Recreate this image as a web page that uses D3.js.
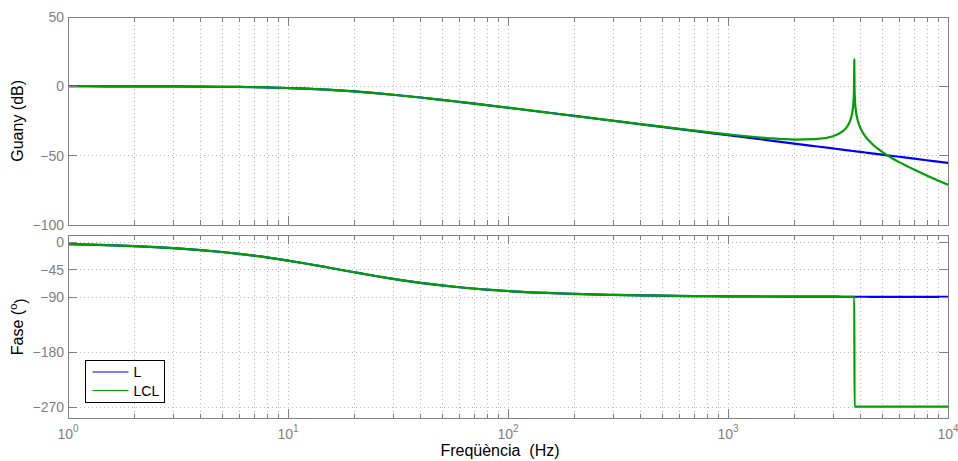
<!DOCTYPE html>
<html>
<head>
<meta charset="utf-8">
<script src="https://cdn.jsdelivr.net/npm/d3@7"></script>
<style>
  html, body { margin: 0; padding: 0; background: #fff; }
  svg { display: block; }
  text { font-family: "Liberation Sans", Arial, Helvetica, sans-serif; }
</style>
</head>
<body>
<svg id="bode" width="958" height="461"></svg>
<script>
// Frequency samples (Hz)
const freq = [1, 1.5, 2, 3, 4, 5, 6, 8, 10, 12, 15, 20, 25, 30, 40, 50, 60, 80, 100, 150,
  200, 300, 400, 500, 700, 1000, 1500, 2000, 2500, 3000, 3300, 3500, 3600, 3700, 3720, 3740,
  3750, 3760, 3780, 3800, 3900, 4000, 4200, 4500, 5000, 5500, 6000, 7000, 8000, 9000, 10000];

// Magnitude (dB)
const gainL = [-0.02, -0.03, -0.06, -0.13, -0.23, -0.36, -0.51, -0.87, -1.29, -1.76, -2.50,
  -3.77, -5.00, -6.14, -8.15, -9.85, -11.29, -13.65, -15.52, -18.97, -21.44, -24.95, -27.44,
  -29.38, -32.30, -35.39, -38.91, -41.41, -43.35, -44.93, -45.76, -46.27, -46.52, -46.76,
  -46.80, -46.85, -46.87, -46.89, -46.94, -46.99, -47.21, -47.43, -47.86, -48.46, -49.37,
  -50.20, -50.95, -52.29, -53.45, -54.48, -55.39];
const gainLCL = [-0.02, -0.03, -0.06, -0.13, -0.23, -0.36, -0.51, -0.87, -1.29, -1.76, -2.50,
  -3.77, -5.00, -6.14, -8.15, -9.85, -11.29, -13.65, -15.51, -18.95, -21.42, -24.89, -27.34,
  -29.22, -31.99, -34.75, -37.40, -38.51, -38.25, -36.06, -32.83, -28.48, -24.41, -15.21,
  -10.85, -1.38, 19.4, -1.44, -11.06, -15.57, -25.44, -30.21, -35.97, -41.33, -47.19,
  -51.42, -54.82, -60.20, -64.46, -68.03, -71.11];

// Phase (degrees)
const phaseL = [-3.37, -5.04, -6.71, -10.01, -13.24, -16.39, -19.44, -25.20, -30.47, -35.22,
  -41.42, -49.64, -55.78, -60.46, -66.97, -71.22, -74.18, -78.00, -80.35, -83.53, -85.14,
  -86.76, -87.57, -88.05, -88.61, -89.03, -89.35, -89.51, -89.61, -89.68, -89.70, -89.72,
  -89.73, -89.74, -89.74, -89.74, -89.74, -89.74, -89.74, -89.74, -89.75, -89.76, -89.77,
  -89.78, -89.81, -89.82, -89.84, -89.86, -89.88, -89.89, -89.90];
const phaseLCL = [-3.37, -5.04, -6.71, -10.01, -13.24, -16.39, -19.44, -25.20, -30.47, -35.22,
  -41.42, -49.64, -55.78, -60.46, -66.97, -71.22, -74.18, -78.00, -80.35, -83.53, -85.14,
  -86.76, -87.57, -88.05, -88.61, -89.03, -89.35, -89.51, -89.61, -89.68, -89.70, -89.72,
  -89.73, -89.74, -89.74, -89.74, -89.74, -269.74, -269.74, -269.74, -269.75, -269.76,
  -269.77, -269.78, -269.81, -269.82, -269.84, -269.86, -269.88, -269.89, -269.90];

// Axis ticks and labels
const gainTicks = [-100, -50, 0, 50];
const phaseTicks = [-270, -180, -90, -45, 0];
const decades = [0, 1, 2, 3, 4];
const seriesNames = ["L", "LCL"];
const seriesColors = ["#0000ff", "#00a000"];

const svg = d3.select("#bode");
const AX = "#808080";
const GRID = "#b8b8b8";

const x = d3.scaleLog().domain([1, 1e4]).range([68, 948]);

const panels = [
  { id: "gain", top: 17, bottom: 224.7, domain: [-100, 50], ticks: gainTicks,
    series: [gainL, gainLCL], label: "Guany (dB)" },
  { id: "phase", top: 235.3, bottom: 418.3, domain: [-289, 11], ticks: phaseTicks,
    series: [phaseL, phaseLCL], label: "Fase (", labelSup: "o", labelEnd: ")" }
];

const xTicks = x.ticks();
const isMajor = v => Math.abs(Math.log10(v) - Math.round(Math.log10(v))) < 1e-9;

panels.forEach(p => {
  const y = d3.scaleLinear().domain(p.domain).range([p.bottom, p.top]);
  const [x0, x1] = x.range();
  const g = svg.append("g").attr("class", p.id);

  g.append("clipPath").attr("id", "clip-" + p.id)
    .append("rect").attr("x", x0).attr("y", p.top)
    .attr("width", x1 - x0).attr("height", p.bottom - p.top);

  // dotted grid
  const grid = g.append("g").attr("stroke", GRID).attr("stroke-width", 1)
    .attr("stroke-dasharray", "1,3").attr("shape-rendering", "crispEdges");
  xTicks.filter(v => v > 1 && v < 1e4).forEach(v => {
    grid.append("line").attr("x1", Math.round(x(v)) + 0.5).attr("x2", Math.round(x(v)) + 0.5)
      .attr("y1", p.top).attr("y2", p.bottom);
  });
  p.ticks.filter(v => v > p.domain[0] && v < p.domain[1]).forEach(v => {
    grid.append("line").attr("x1", x0).attr("x2", x1)
      .attr("y1", Math.round(y(v)) + 0.5).attr("y2", Math.round(y(v)) + 0.5);
  });

  // curves
  const line = d3.line()
    .x(d => x(d[0])).y(d => y(d[1]))
    .curve(d3.curveMonotoneX);
  const lines = g.append("g").attr("clip-path", "url(#clip-" + p.id + ")");
  p.series.forEach((vals, i) => {
    lines.append("path")
      .datum(freq.map((f, k) => [f, vals[k]]))
      .attr("d", line)
      .attr("fill", "none")
      .attr("stroke", seriesColors[i])
      .attr("stroke-width", 2.2)
      .attr("stroke-linejoin", "round");
  });

  // ticks (inside, on all four sides)
  const tk = g.append("g").attr("stroke", AX).attr("stroke-width", 1)
    .attr("shape-rendering", "crispEdges");
  xTicks.forEach(v => {
    const len = isMajor(v) ? 9 : 4.5;
    const xx = Math.round(x(v)) + 0.5;
    tk.append("line").attr("x1", xx).attr("x2", xx).attr("y1", p.bottom).attr("y2", p.bottom - len);
    tk.append("line").attr("x1", xx).attr("x2", xx).attr("y1", p.top).attr("y2", p.top + len);
  });
  p.ticks.forEach(v => {
    const yy = Math.round(y(v)) + 0.5;
    tk.append("line").attr("x1", x0).attr("x2", x0 + 9).attr("y1", yy).attr("y2", yy);
    tk.append("line").attr("x1", x1).attr("x2", x1 - 9).attr("y1", yy).attr("y2", yy);
  });

  // frame
  g.append("rect")
    .attr("x", Math.round(x0) + 0.5).attr("y", Math.round(p.top) + 0.5)
    .attr("width", Math.round(x1 - x0)).attr("height", Math.round(p.bottom - p.top))
    .attr("fill", "none").attr("stroke", AX).attr("stroke-width", 1)
    .attr("shape-rendering", "crispEdges");

  // y tick labels
  g.append("g").selectAll("text").data(p.ticks).join("text")
    .attr("x", x0 - 4).attr("y", d => y(d)).attr("dy", "0.36em")
    .attr("text-anchor", "end").attr("font-size", 14).attr("fill", AX)
    .text(d => d3.format("d")(d));

  // y axis title
  const t = g.append("text")
    .attr("transform", `translate(23,${(p.top + p.bottom) / 2}) rotate(-90)`)
    .attr("text-anchor", "middle").attr("font-size", 16).attr("fill", "#000")
    .text(p.label);
  if (p.labelSup) {
    t.append("tspan").attr("font-size", 11).attr("dy", "-0.55em").text(p.labelSup);
    t.append("tspan").attr("dy", "0.55em").text(p.labelEnd);
  }

  p.y = y;
});

// x tick labels on the lower panel: 10^k
const bottomPanel = panels[1];
const xl = svg.append("g").attr("fill", AX);
decades.forEach(k => {
  const txt = xl.append("text")
    .attr("x", x(Math.pow(10, k))).attr("y", 439)
    .attr("text-anchor", "middle").attr("font-size", 14);
  txt.append("tspan").text("10");
  txt.append("tspan").attr("font-size", 10).attr("dy", "-0.75em").text(k);
});

// x axis title
svg.append("text")
  .attr("x", 500).attr("y", 456)
  .attr("text-anchor", "middle").attr("font-size", 16).attr("fill", "#000")
  .style("white-space", "pre")
  .text("Freqüència  (Hz)");

// legend
const lg = svg.append("g").attr("transform", "translate(85.5,360.5)");
lg.append("rect").attr("width", 79).attr("height", 42)
  .attr("fill", "#fff").attr("stroke", "#000").attr("stroke-width", 1)
  .attr("shape-rendering", "crispEdges");
seriesNames.forEach((name, i) => {
  const yy = 11.5 + i * 18.5;
  lg.append("line").attr("x1", 7).attr("x2", 43).attr("y1", yy).attr("y2", yy)
    .attr("stroke", seriesColors[i]).attr("stroke-width", 1);
  lg.append("text").attr("x", 48).attr("y", yy).attr("dy", "0.36em")
    .attr("font-size", 14).attr("fill", "#000").text(name);
});
</script>
</body>
</html>
